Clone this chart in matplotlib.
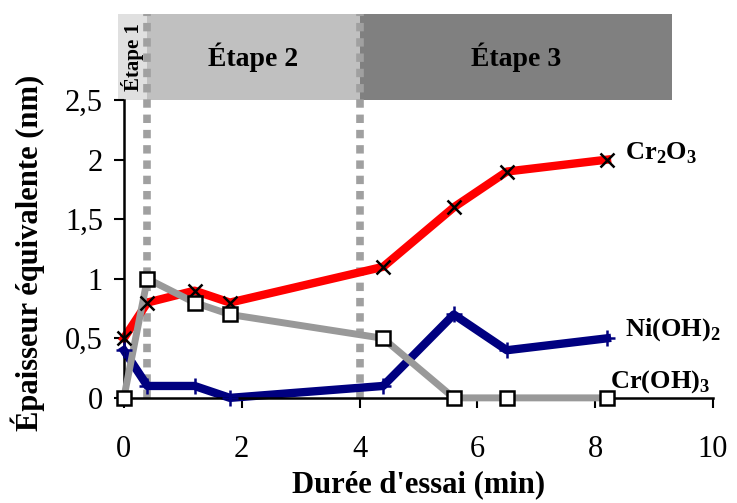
import matplotlib
matplotlib.use("Agg")
import matplotlib.pyplot as plt
from matplotlib.patches import Rectangle

plt.rcParams["font.family"] = ["Liberation Serif", "DejaVu Serif"]
plt.rcParams["mathtext.fontset"] = "custom"
plt.rcParams["mathtext.rm"] = "Liberation Serif"
plt.rcParams["mathtext.bf"] = "Liberation Serif:bold"

# data
t = [0, 0.4, 1.2, 1.8, 4.4, 5.6, 6.5, 8.2]
cr2o3 = [0.5, 0.8, 0.9, 0.8, 1.1, 1.6, 1.9, 2.0]
nioh2 = [0.4, 0.1, 0.1, 0.0, 0.1, 0.7, 0.4, 0.5]
croh3 = [0.0, 1.0, 0.8, 0.7, 0.5, 0.0, 0.0, 0.0]
stage_bounds = [-0.1, 0.4, 4.0, 9.3]
stage_names = ["Étape 1", "Étape 2", "Étape 3"]
stage_colors = ["#e0e0e0", "#c0c0c0", "#808080"]
yticks = [0, 0.5, 1, 1.5, 2, 2.5]
ytick_labels = ["0", "0,5", "1", "1,5", "2", "2,5"]

fig = plt.figure(figsize=(7.37, 5.03), dpi=100)
ax = fig.add_axes([0.168, 0.209, 0.7995, 0.592])

# stage bands above the plot
band_top = 3.22
for i, name in enumerate(stage_names):
    x0, x1 = stage_bounds[i], stage_bounds[i + 1]
    ax.add_patch(Rectangle((x0, 2.5), x1 - x0, band_top - 2.5, color=stage_colors[i],
                           clip_on=False, zorder=0, lw=0))
    if i == 0:
        ax.text((x0 + x1) / 2, 2.86, name, rotation=90, ha="center", va="center",
                fontsize=15, fontweight="bold", clip_on=False)
    else:
        ax.text((x0 + x1) / 2, 2.86, name, ha="center", va="center",
                fontsize=20, fontweight="bold", clip_on=False)

for xv in stage_bounds[1:3]:
    ax.plot([xv, xv], [0, band_top], color="#a0a0a0", lw=5.5, ls=(0, (1.1, 0.9)),
            clip_on=False, zorder=1, solid_capstyle="butt", dash_capstyle="butt")

ax.plot(t, cr2o3, color="red", lw=6, zorder=2, clip_on=False)
ax.plot(t, nioh2, color="#000080", lw=6, zorder=2, clip_on=False)
ax.plot(t, croh3, color="#999999", lw=5, zorder=3, clip_on=False)
ax.plot(t, cr2o3, ls="none", marker="x", ms=10, mew=1.8, color="black", zorder=5, clip_on=False)
ax.plot(t, nioh2, ls="none", marker="+", ms=12, mew=1.8, color="#000080", zorder=5, clip_on=False)
ax.plot(t, croh3, ls="none", marker="s", ms=9.5, mew=1.8, mfc="white", mec="black", zorder=5, clip_on=False)

ax.text(8.5, 2.05, r"Cr$_\mathbf{2}$O$_\mathbf{3}$", fontsize=19, fontweight="bold", va="center")
ax.text(8.5, 0.57, r"Ni(OH)$_\mathbf{2}$", fontsize=19, fontweight="bold", va="center")
ax.text(8.25, 0.14, r"Cr(OH)$_\mathbf{3}$", fontsize=19, fontweight="bold", va="center")

ax.set_xlim(0, 10)
ax.set_ylim(0, 2.5)
ax.set_xticks([0, 2, 4, 6, 8, 10])
ax.set_yticks(yticks)
ax.set_yticklabels(ytick_labels)
ax.tick_params(labelsize=22, length=7, width=1.5, direction="out")
ax.tick_params(axis="x", pad=20)
ax.tick_params(axis="y", pad=8)
for s in ["top", "right"]:
    ax.spines[s].set_visible(False)
for s in ["left", "bottom"]:
    ax.spines[s].set_linewidth(1.8)
ax.set_xlabel("Durée d'essai (min)", fontsize=22, fontweight="bold", labelpad=4)
ax.set_ylabel("Épaisseur équivalente (nm)", fontsize=22, fontweight="bold")
ax.yaxis.set_label_coords(-0.134, 0.487)

fig.savefig("out.png", dpi=100)
